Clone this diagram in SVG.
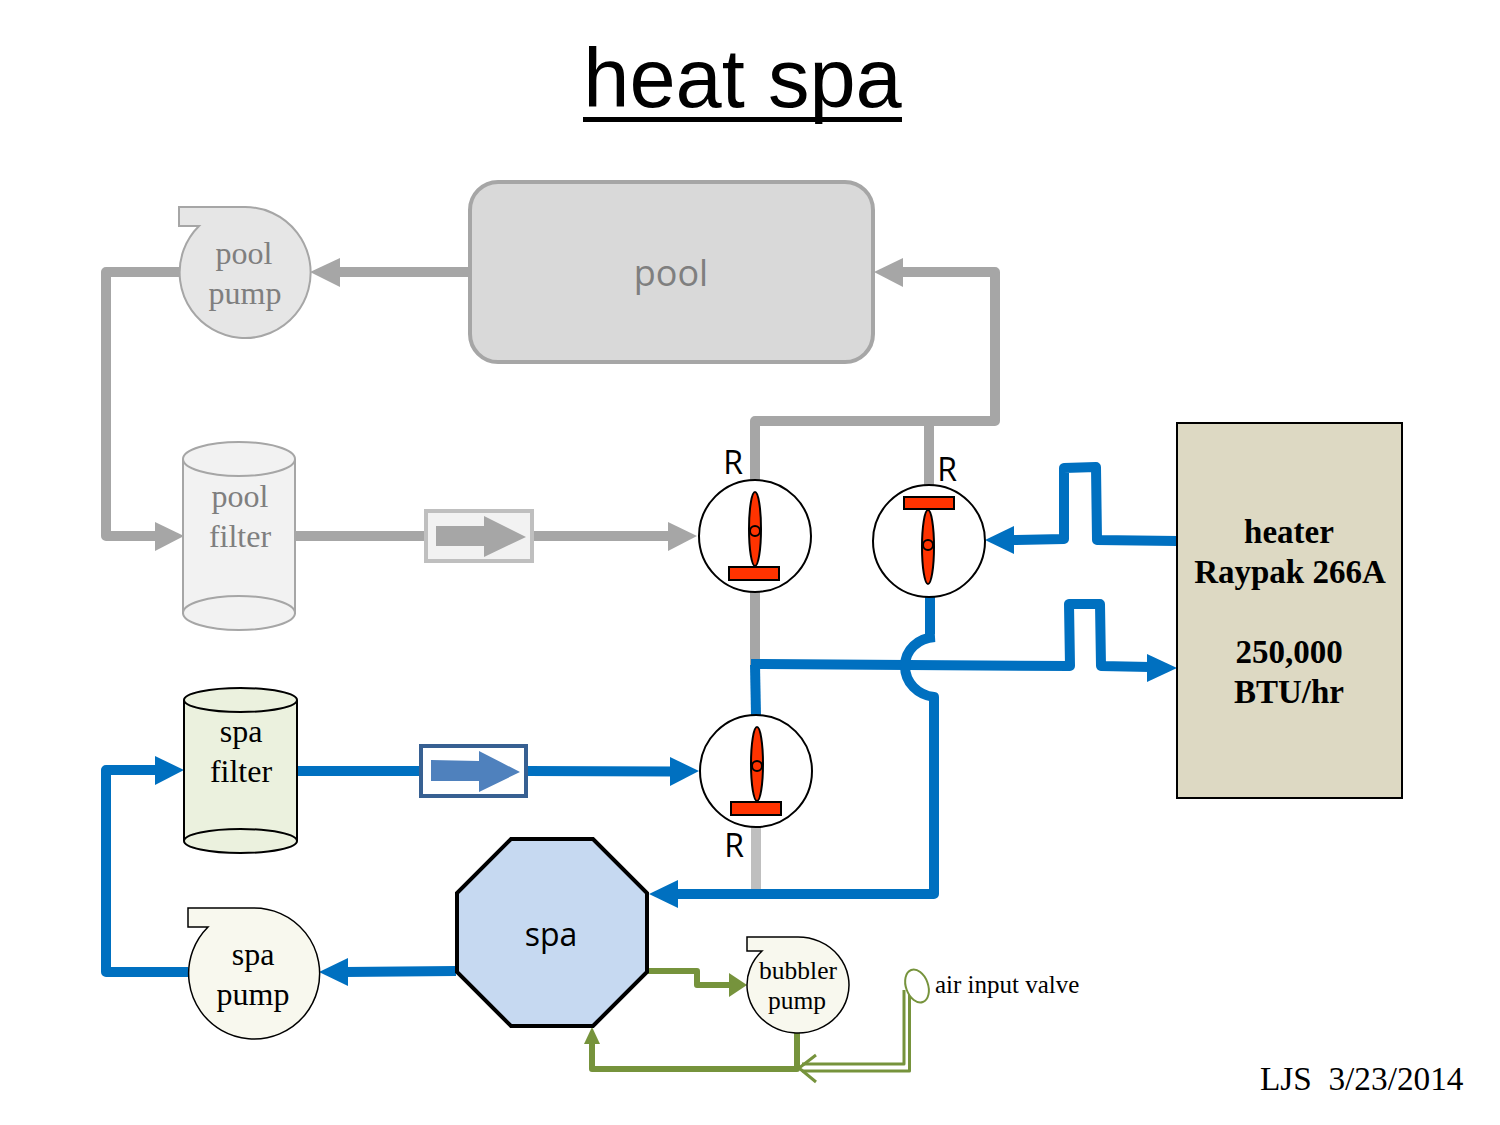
<svg xmlns="http://www.w3.org/2000/svg" width="1500" height="1125" viewBox="0 0 1500 1125">
<style>
.t{font-family:"Liberation Serif","Times New Roman",serif;text-anchor:middle}
.s{font-family:"Liberation Sans",Arial,sans-serif;text-anchor:middle}
.c{font-family:"Open Sans","Noto Sans",sans-serif}
.g{stroke:#a6a6a6;stroke-width:10;fill:none;stroke-linejoin:round}
.b{stroke:#0070c0;stroke-width:10;fill:none;stroke-linejoin:round}
.v{stroke:#76933c;stroke-width:6;fill:none;stroke-linejoin:round}
.o{fill:#ff3300;stroke:#000;stroke-width:2}
.vb{fill:#fff;stroke:#000;stroke-width:2}
</style>
<rect width="1500" height="1125" fill="#fff"/>
<g id="title"><text class="s" x="742.500" y="107" font-size="83">heat spa</text><rect x="583" y="117" width="319" height="5" fill="#000"/></g>
<g id="connectors">
<path class="g" d="M470 272H335"/><polygon points="310,272 340,258 340,287" fill="#a6a6a6"/>
<path class="g" d="M180 272H106V536H160"/><polygon points="184,536 155,522 155,551" fill="#a6a6a6"/>
<path class="g" d="M296 536H426M533 536H672"/><polygon points="697,536 668,522 668,551" fill="#a6a6a6"/>
<path class="g" d="M755 481V421H995V272H900"/><polygon points="874,272 903,258 903,287" fill="#a6a6a6"/>
<path class="g" d="M929 421V485"/>
<path class="g" d="M755 592V665"/>
<path stroke="#bfbfbf" stroke-width="10" fill="none" d="M756 826V890"/>
<path class="b" d="M1177 541 1097 540 1096 467 1064 468V539L1012 540"/><polygon points="985,540 1014,526 1014,554" fill="#0070c0"/>
<path class="b" d="M930 597V634"/>
<path class="b" d="M751 664 1070 666 1069 604 1100 604 1101 666 1150 667"/><polygon points="1177,668 1147,654 1147,682" fill="#0070c0"/>
<path class="b" d="M756 715 755 665"/>
<path class="b" d="M935 637C918 638 905 650 905 666C905 683 918 695 934 697V894H675"/><polygon points="649,894 678,880 678,908" fill="#0070c0"/>
<path class="b" d="M456 971 345 972"/><polygon points="319,972 348,958 348,986" fill="#0070c0"/>
<path class="b" d="M188 972H106V770H160"/><polygon points="184,770 155,756 155,785" fill="#0070c0"/>
<path class="b" d="M298 771H420M527 771 675 771.500"/><polygon points="699,771 670,757 670,786" fill="#0070c0"/>
<path class="v" d="M647 971H697V985H730"/><polygon points="747,985 729,973 729,997" fill="#76933c"/>
<path class="v" d="M797 1033V1069H592V1042"/><polygon points="592,1027 584,1044 600,1044" fill="#76933c"/>
<path d="M904 990V1064H802M909.500 992V1071H802" fill="none" stroke="#76933c" stroke-width="3" stroke-linejoin="round"/>
<path d="M816 1055 799 1068 816 1082" fill="none" stroke="#76933c" stroke-width="3"/>
</g>
<g id="pool"><rect x="470" y="182" width="403" height="180" rx="28" fill="#d9d9d9" stroke="#a6a6a6" stroke-width="4"/><text class="c" x="671" y="286" font-size="36" fill="#7f7f7f" text-anchor="middle">pool</text></g>
<g id="pool-pump"><path d="M179 207H245A65.500 65.500 0 1 1 199 226H179Z" fill="#e6e6e6" stroke="#a6a6a6" stroke-width="2"/><text class="t" x="244" y="264" font-size="32" fill="#7f7f7f">pool</text><text class="t" x="245" y="304" font-size="32" fill="#7f7f7f">pump</text></g>
<g id="pool-filter"><path d="M183 459V613H295V459" fill="#f2f2f2" stroke="#a6a6a6" stroke-width="2"/><ellipse cx="239" cy="459" rx="56" ry="17" fill="#f2f2f2" stroke="#a6a6a6" stroke-width="2"/><ellipse cx="239" cy="613" rx="56" ry="17" fill="#f2f2f2" stroke="#a6a6a6" stroke-width="2"/><text class="t" x="240" y="507" font-size="32" fill="#7f7f7f">pool</text><text class="t" x="240" y="547" font-size="32" fill="#7f7f7f">filter</text></g>
<g id="pool-check"><rect x="426" y="511" width="106" height="50" fill="#f2f2f2" stroke="#bfbfbf" stroke-width="4"/><polygon points="436,526 484,526 484,516 526,537 484,557 484,546 436,546" fill="#a6a6a6"/></g>
<g id="valve-1"><circle cx="755" cy="536" r="56" class="vb"/><ellipse cx="755" cy="529" rx="6" ry="37" class="o"/><circle cx="755" cy="531" r="5" class="o"/><rect x="729" y="567" width="50" height="13" class="o"/><text class="c" x="733" y="474" font-size="32" text-anchor="middle">R</text></g>
<g id="valve-2"><circle cx="929" cy="541" r="56" class="vb"/><ellipse cx="928" cy="547" rx="6" ry="37" class="o"/><circle cx="928" cy="545" r="5" class="o"/><rect x="904" y="497" width="50" height="12" class="o"/><text class="c" x="947" y="481" font-size="32" text-anchor="middle">R</text></g>
<g id="valve-3"><circle cx="756" cy="771" r="56" class="vb"/><ellipse cx="757" cy="764" rx="6" ry="37" class="o"/><circle cx="757" cy="766" r="5" class="o"/><rect x="731" y="802" width="50" height="13" class="o"/><text class="c" x="734" y="857" font-size="32" text-anchor="middle">R</text></g>
<g id="heater"><rect x="1177" y="423" width="225" height="375" fill="#ddd9c3" stroke="#000" stroke-width="2"/><g class="t" font-size="33" font-weight="bold"><text x="1289" y="543">heater</text><text x="1290" y="583">Raypak 266A</text><text x="1289" y="663">250,000</text><text x="1289" y="703">BTU/hr</text></g></g>
<g id="spa-filter"><path d="M184 700V841A56.500 12 0 0 0 297 841V700" fill="#ebf1de" stroke="#000" stroke-width="2"/><ellipse cx="240.500" cy="700" rx="56.500" ry="12" fill="#ebf1de" stroke="#000" stroke-width="2"/><path d="M184 841A56.500 12 0 0 1 297 841" fill="none" stroke="#000" stroke-width="2"/><text class="t" x="241" y="742" font-size="32">spa</text><text class="t" x="241" y="782" font-size="32">filter</text></g>
<g id="spa-check"><rect x="421" y="746" width="105" height="50" fill="#fff" stroke="#376092" stroke-width="4"/><polygon points="431,760 479,761 479,751 520,772 479,792 479,781 431,781" fill="#4f81bd"/></g>
<g id="spa-pump"><path d="M188 908H253A65.500 65.500 0 1 1 208 927H188Z" fill="#f8f8ee" stroke="#000" stroke-width="1.500"/><text class="t" x="253" y="965" font-size="32">spa</text><text class="t" x="253" y="1005" font-size="32">pump</text></g>
<g id="spa"><polygon points="511,839 593,839 647,893 647,972 593,1026 511,1026 457,972 457,893" fill="#c6d9f1" stroke="#000" stroke-width="4"/><text class="c" x="551" y="946" font-size="32" text-anchor="middle">spa</text></g>
<g id="bubbler-pump"><path d="M747 937H798A51 48 0 1 1 762 951H747Z" fill="#f8f8ee" stroke="#000" stroke-width="1.500"/><text class="t" x="798" y="979" font-size="25.500">bubbler</text><text class="t" x="797" y="1009" font-size="25.500">pump</text></g>
<g id="air-valve"><ellipse cx="917" cy="986" rx="11" ry="17" transform="rotate(-20 917 986)" fill="#fff" stroke="#76933c" stroke-width="2"/><text x="935" y="993" font-size="25" font-family="Liberation Serif,serif">air input valve</text></g>
<g id="credit"><text x="1260" y="1090" font-size="33.300" font-family="Liberation Serif,serif" xml:space="preserve">LJS  3/23/2014</text></g>
</svg>
